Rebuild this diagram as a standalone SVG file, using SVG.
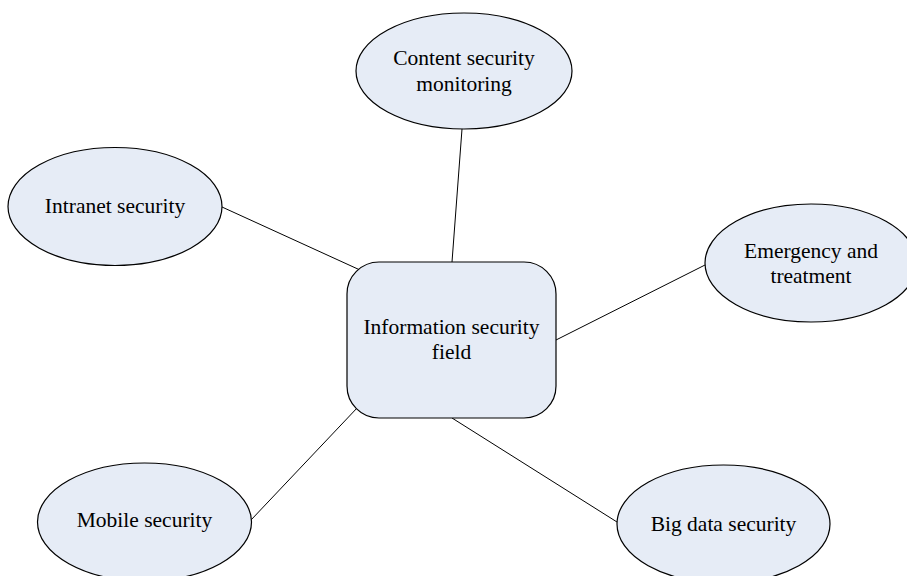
<svg xmlns="http://www.w3.org/2000/svg" width="907" height="576" viewBox="0 0 907 576">
<style>
.n{fill:#e6ecf6;stroke:#000;stroke-width:1.2}
.c line{stroke:#000;stroke-width:1}
text{font-family:"Liberation Serif","Times New Roman",serif;font-size:21.5px;fill:#000;text-anchor:middle}
</style>
<rect width="907" height="576" fill="#fff"/>
<g class="c" id="connectors">
<line x1="462" y1="129" x2="452" y2="262"/>
<line x1="222" y1="207" x2="360" y2="270"/>
<line x1="705" y1="265" x2="556" y2="340"/>
<line x1="251" y1="520" x2="358" y2="407"/>
<line x1="617" y1="522" x2="452" y2="418"/>
</g>
<g id="center">
<rect class="n" x="347" y="262" width="209" height="156" rx="32" ry="32"/>
<text x="451.5" y="334">Information security</text>
<text x="451.5" y="359">field</text>
</g>
<g id="content">
<ellipse class="n" cx="464" cy="71" rx="108" ry="58"/>
<text x="464" y="65">Content security</text>
<text x="464" y="91">monitoring</text>
</g>
<g id="intranet">
<ellipse class="n" cx="115" cy="206.5" rx="107" ry="59"/>
<text x="115" y="213">Intranet security</text>
</g>
<g id="emergency">
<ellipse class="n" cx="811" cy="263" rx="106" ry="59"/>
<text x="811" y="258">Emergency and</text>
<text x="811" y="283">treatment</text>
</g>
<g id="mobile">
<ellipse class="n" cx="144.5" cy="522" rx="107" ry="59"/>
<text x="144.5" y="527">Mobile security</text>
</g>
<g id="bigdata">
<ellipse class="n" cx="723.5" cy="524" rx="106.5" ry="59"/>
<text x="723.5" y="531">Big data security</text>
</g>
</svg>
